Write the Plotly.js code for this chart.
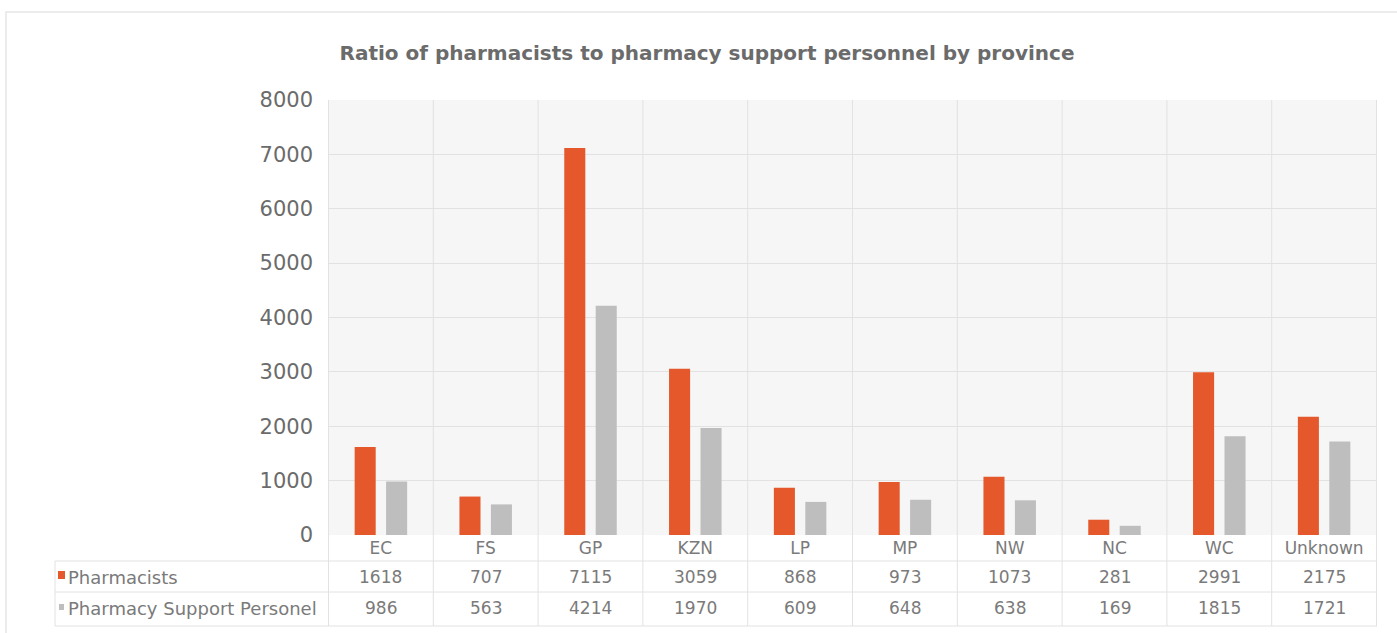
<!DOCTYPE html>
<html>
<head>
<meta charset="utf-8">
<script src="https://cdn.plot.ly/plotly-3.0.1.min.js"></script>
<style>html,body{margin:0;padding:0;background:#fff;}#chart{width:1397px;height:633px;}</style>
</head>
<body>
<div id="chart"></div>
<script>
const categories = ["EC", "FS", "GP", "KZN", "LP", "MP", "NW", "NC", "WC", "Unknown"];
const pharmacists = [1618, 707, 7115, 3059, 868, 973, 1073, 281, 2991, 2175];
const supportPersonnel = [986, 563, 4214, 1970, 609, 648, 638, 169, 1815, 1721];
const seriesNames = ["Pharmacists", "Pharmacy Support Personel"];
const seriesColors = ["#E4582B", "#BEBEBE"];
const yTicks = [0, 1000, 2000, 3000, 4000, 5000, 6000, 7000, 8000];
const titleText = "Ratio of pharmacists to pharmacy support personnel by province";

const FONT = "DejaVu Sans, Liberation Sans, Arial, sans-serif";
const W = 1397, H = 633;
const M = {l: 328, r: 20, t: 100, b: 98};
const PW = W - M.l - M.r, PH = H - M.t - M.b;
const px = p => (p - M.l) / PW;          // pixel x -> paper x
const py = p => (H - M.b - p) / PH;      // pixel y -> paper y

const traces = [
  {type: "bar", name: seriesNames[0], x: categories, y: pharmacists, marker: {color: seriesColors[0]}, hoverinfo: "x+y"},
  {type: "bar", name: seriesNames[1], x: categories, y: supportPersonnel, marker: {color: seriesColors[1]}, hoverinfo: "x+y"}
];

const gridCol = "#e2e2e2";
const rowY = [py(577), py(608)];
const tableTop = py(561), tableMid = py(592), tableBot = py(626);
const tableLeft = px(55);

const shapes = [];
// outer chart frame
shapes.push({type: "rect", xref: "paper", yref: "paper", x0: px(6), x1: px(1400), y0: py(640), y1: py(12),
  line: {color: "#e6e6e6", width: 1.5}, fillcolor: "rgba(0,0,0,0)", layer: "below"});
// table horizontal lines
[tableTop, tableMid, tableBot].forEach(y => shapes.push({type: "line", xref: "paper", yref: "paper",
  x0: tableLeft, x1: 1, y0: y, y1: y, line: {color: gridCol, width: 1}}));
// table left border
shapes.push({type: "line", xref: "paper", yref: "paper", x0: tableLeft, x1: tableLeft, y0: tableTop, y1: tableBot, line: {color: gridCol, width: 1}});
// vertical category boundaries through label row and table
for (let i = 0; i <= categories.length; i++) {
  shapes.push({type: "line", xref: "x", yref: "paper", x0: i - 0.5, x1: i - 0.5, y0: 1, y1: tableBot,
    line: {color: gridCol, width: 1}, layer: "below"});
}
// legend keys in table
seriesColors.forEach((c, k) => {
  const yc = k === 0 ? 575 : 607;
  const s = k === 0 ? 4 : 3;
  shapes.push({type: "rect", xref: "paper", yref: "paper", x0: px(62 - s), x1: px(61 + s),
    y0: py(yc + s), y1: py(yc - s), line: {width: 0}, fillcolor: c});
});

const annotations = [];
seriesNames.forEach((n, k) => {
  annotations.push({xref: "paper", yref: "paper", x: px(66), y: rowY[k], text: n, showarrow: false,
    xanchor: "left", yanchor: "middle", font: {family: FONT, size: 18, color: "#7a7a7a"}});
});
[pharmacists, supportPersonnel].forEach((vals, k) => {
  vals.forEach((v, i) => annotations.push({xref: "x", yref: "paper", x: categories[i], y: rowY[k], text: String(v),
    showarrow: false, xanchor: "center", yanchor: "middle", font: {family: FONT, size: 17, color: "#7a7a7a"}}));
});

const layout = {
  width: W, height: H,
  margin: M,
  paper_bgcolor: "#ffffff",
  plot_bgcolor: "#f6f6f6",
  showlegend: false,
  barmode: "group",
  bargap: 0.4,
  bargroupgap: 0.33,
  title: {text: "<b>" + titleText + "</b>", x: 707 / W, xanchor: "center", y: 1 - 53 / H, yanchor: "middle",
    font: {family: FONT, size: 20, color: "#6b6b6b"}},
  xaxis: {type: "category", showgrid: false, zeroline: false, showline: false, ticks: "",
    tickfont: {family: FONT, size: 17, color: "#7a7a7a"}, ticklabelstandoff: 1, fixedrange: true},
  yaxis: {range: [0, 8000], tickvals: yTicks, showgrid: true, gridcolor: gridCol, gridwidth: 1,
    zeroline: false, showline: false, ticks: "", ticklabelstandoff: 14,
    tickfont: {family: FONT, size: 21, color: "#6b6b6b"}, fixedrange: true},
  shapes: shapes,
  annotations: annotations
};

Plotly.newPlot("chart", traces, layout, {displayModeBar: false, staticPlot: true});
</script>
</body>
</html>
